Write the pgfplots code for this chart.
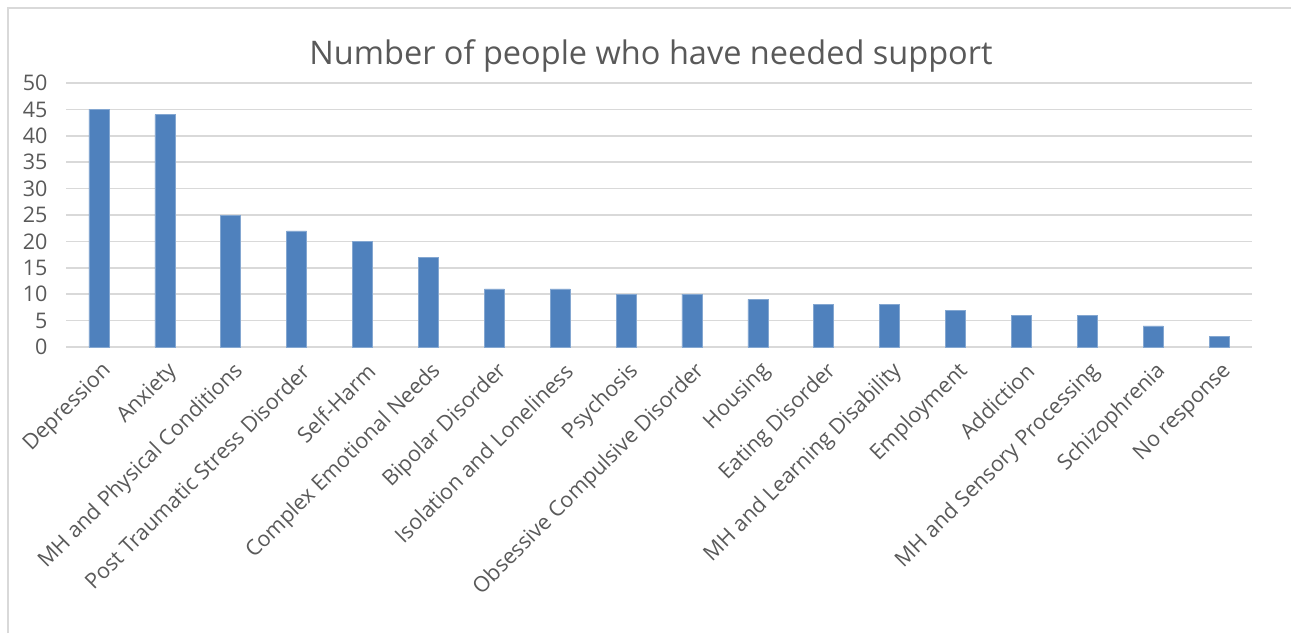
\documentclass[border=0pt]{standalone}
\usepackage{fontspec}
\setmainfont{Open Sans}
\usepackage{pgfplots}
\pgfplotsset{compat=1.18}
\definecolor{barblue}{HTML}{4F81BD}
\definecolor{gridgray}{HTML}{D9D9D9}
\definecolor{textgray}{HTML}{595959}
\begin{document}
\begin{tikzpicture}[x=1pt,y=1pt]
\path[use as bounding box] (0,0) rectangle (1291,-633);
\draw[gridgray, line width=1.5pt] (8,-633) -- (8,-8) -- (1291,-8);
\begin{axis}[
  at={(66pt,-347pt)}, anchor=south west,
  scale only axis, width=1186pt, height=264pt,
  xmin=-0.5, xmax=17.5, ymin=0, ymax=50,
  ytick={0,5,...,50},
  xtick={0,...,17},
  xticklabels={Depression,Anxiety,MH and Physical Conditions,Post Traumatic Stress Disorder,Self-Harm,Complex Emotional Needs,Bipolar Disorder,Isolation and Loneliness,Psychosis,Obsessive Compulsive Disorder,Housing,Eating Disorder,MH and Learning Disability,Employment,Addiction,MH and Sensory Processing,Schizophrenia,No response},
  axis line style={draw=none},
  major tick length=0pt,
  ymajorgrids, grid style={gridgray, line width=1.5pt},
  /pgf/number format/assume math mode=true,
  tick label style={font=\fontsize{21.5}{26}\selectfont, text=textgray},
  yticklabel style={xshift=-15pt},
  xticklabel style={rotate=45, anchor=east, yshift=-21pt, xshift=-5pt},
  title={Number of people who have needed support},
  title style={at={(0.5,1)}, anchor=center, yshift=21pt, xshift=-8pt, font=\fontsize{32.5}{40}\selectfont, text=textgray},
  clip=false,
]
\addplot[ybar, bar width=20pt, fill=barblue, draw=barblue!70!white, line width=0.6pt] coordinates {
(0,45) (1,44) (2,25) (3,22) (4,20) (5,17) (6,11) (7,11) (8,10) (9,10) (10,9) (11,8) (12,8) (13,7) (14,6) (15,6) (16,4) (17,2)
};
\end{axis}
\end{tikzpicture}
\end{document}
